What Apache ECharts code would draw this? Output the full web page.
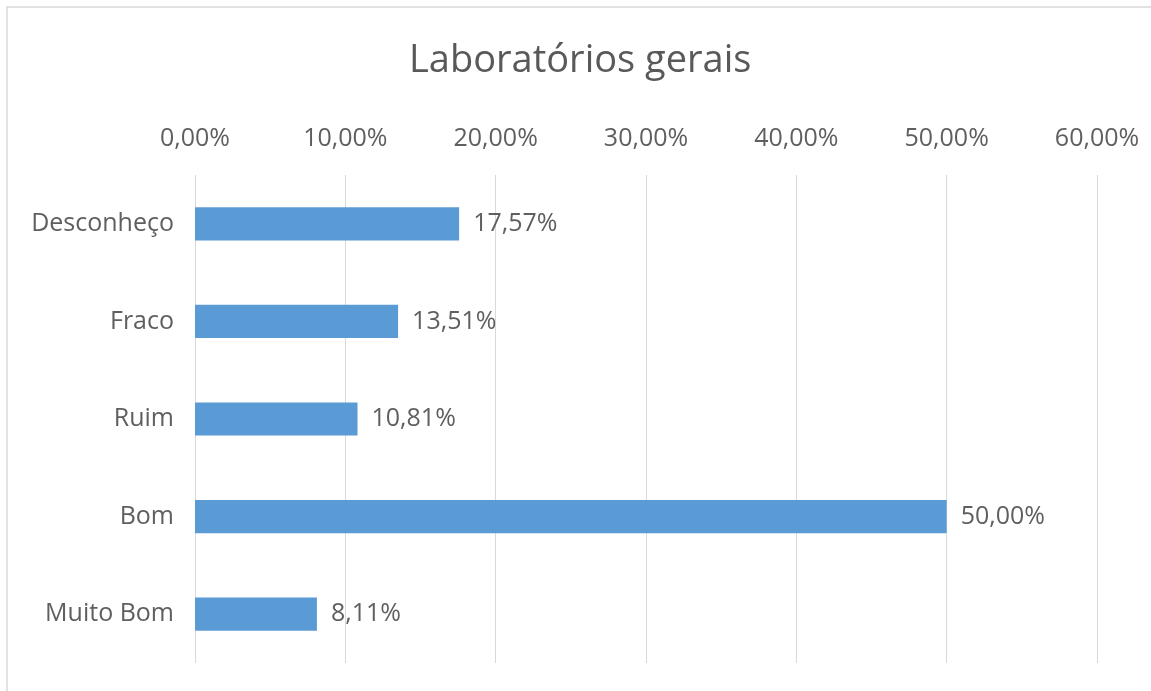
<!DOCTYPE html>
<html>
<head>
<meta charset="utf-8">
<script src="https://cdn.jsdelivr.net/npm/echarts@6/dist/echarts.min.js"></script>
<style>html,body{margin:0;padding:0;background:#fff;}#c{width:1151px;height:691px;}</style>
</head>
<body>
<div id="c"></div>
<script>
const categories = ['Desconheço', 'Fraco', 'Ruim', 'Bom', 'Muito Bom'];
const values = [17.57, 13.51, 10.81, 50.00, 8.11];
const titleText = 'Laboratórios gerais';

const fmt = v => v.toFixed(2).replace('.', ',') + '%';
const chart = echarts.init(document.getElementById('c'), null, {renderer: 'canvas'});
const font = '"Open Sans", sans-serif';
chart.setOption({
  animation: false,
  backgroundColor: '#fff',
  title: {
    text: titleText, left: 404, top: 37,
    textStyle: {fontFamily: font, fontSize: 38, fontWeight: 'normal', color: '#595959'}
  },
  graphic: [{
    type: 'rect', shape: {x: 7, y: 7, width: 1200, height: 800},
    style: {fill: 'none', stroke: '#d9d9d9', lineWidth: 1.5}, silent: true
  }],
  grid: {left: 195, right: 54, top: 175, bottom: 28},
  xAxis: {
    type: 'value', position: 'top', min: 0, max: 60, interval: 10,
    axisLine: {show: false}, axisTick: {show: false},
    axisLabel: {formatter: v => fmt(v), fontFamily: font, fontSize: 25, color: '#5f5f5f', margin: 24},
    splitLine: {lineStyle: {color: '#d9d9d9', width: 1}}
  },
  yAxis: {
    type: 'category', data: categories, inverse: true,
    axisLine: {show: false}, axisTick: {show: false},
    axisLabel: {fontFamily: font, fontSize: 25, color: '#5f5f5f', margin: 21}
  },
  series: [{
    type: 'bar', data: values, barWidth: '34%',
    itemStyle: {color: '#5b9bd5'},
    label: {show: true, position: 'right', distance: 14, formatter: p => fmt(p.value),
      fontFamily: font, fontSize: 25, color: '#5f5f5f'}
  }]
});
</script>
</body>
</html>
